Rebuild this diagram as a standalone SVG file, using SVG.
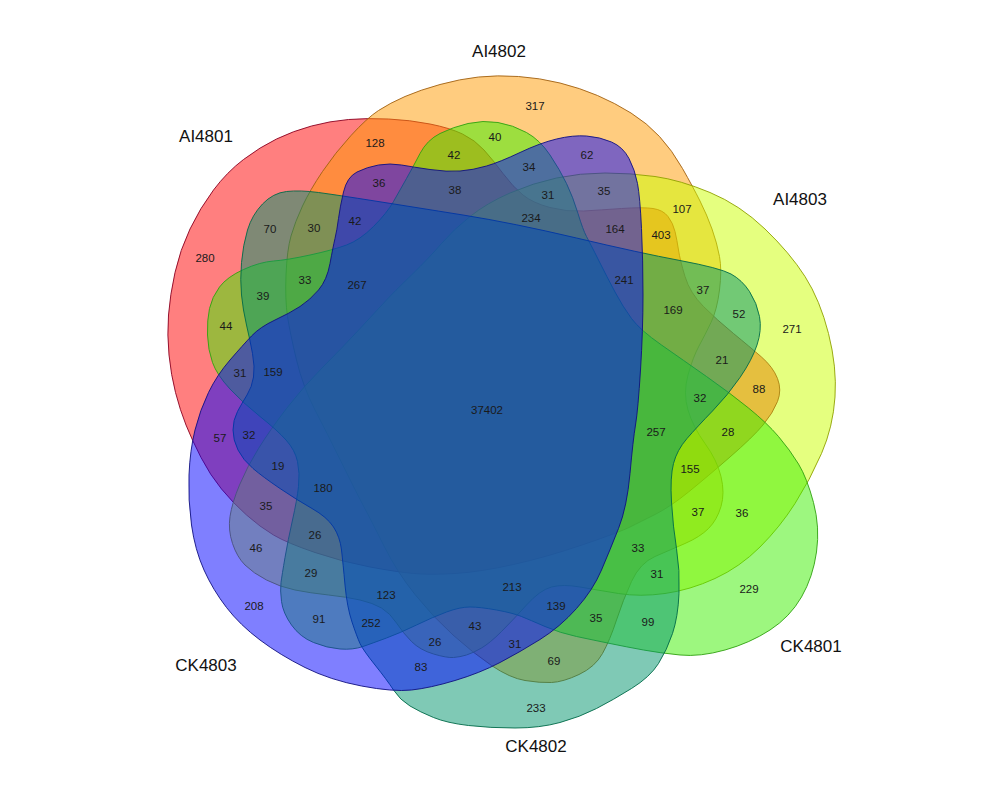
<svg xmlns="http://www.w3.org/2000/svg" width="1000" height="800" viewBox="0 0 1000 800">
<style>
.set{fill-opacity:0.5;stroke-width:0.9;stroke-linejoin:round}
.lab{font-family:"Liberation Sans",Arial,sans-serif;font-size:17px;fill:#111;text-anchor:middle}
.n{font-family:"Liberation Sans",Arial,sans-serif;font-size:11.5px;fill:#1a1a1a;text-anchor:middle}
</style>
<rect width="1000" height="800" fill="#ffffff"/>
<g id="AI4801">
<path class="set" fill="#ff0000" stroke="#8a0020" d="M201,457.5 Q192,440 186,425 Q180,410 175.5,392.5 Q171,375 169,355 Q167,335 168.5,315 Q170,295 175,272.5 Q180,250 190,229 Q200,208 213.5,190 Q227,172 243.5,159.5 Q260,147 276.5,139 Q293,131 311.5,126 Q330,121 348.5,119.5 Q367,118 388.5,119 Q410,120 430,124 Q450,128 462.5,134 Q475,140 484,150 Q493,160 503,173.5 Q513,187 523,195 Q533,203 550,207.5 Q567,212 583.5,211 Q600,210 621.5,208.5 Q643,207 653,208.5 Q663,210 668,216.5 Q673,223 675,231.5 Q677,240 678.5,250 Q680,260 685,276.5 Q690,293 703.5,306.5 Q717,320 733.5,333.5 Q750,347 761.5,357 Q773,367 777.5,378.5 Q782,390 777.5,401.5 Q773,413 763,425 Q753,437 730,457 Q707,477 688.5,492 Q670,507 655,514.5 Q640,522 630,527 Q620,532 583.5,544.5 Q547,557 513.5,564.5 Q480,572 455,573.5 Q430,575 413.5,573.5 Q397,572 370,567 Q343,562 315,552.5 Q287,543 273.5,535 Q260,527 246.5,515 Q233,503 221.5,489 Q210,475 201,457.5 Z"/>
<text class="lab" x="206" y="142">AI4801</text>
</g>
<g id="AI4802">
<path class="set" fill="#ff9900" stroke="#a06010" d="M551.5,682.5 Q540,683 525,680.5 Q510,678 491.5,665.5 Q473,653 453,635 Q433,617 415,594.5 Q397,572 384.5,547 Q372,522 363.5,506 Q355,490 341,461.5 Q327,433 315,410 Q303,387 296.5,360 Q290,333 287.5,316.5 Q285,300 286,275 Q287,250 291,236 Q295,222 302.5,206 Q310,190 322.5,171.5 Q335,153 351,135.5 Q367,118 378.5,110.5 Q390,103 405,96.5 Q420,90 440,84.5 Q460,79 478.5,77 Q497,75 518.5,76.5 Q540,78 560,83 Q580,88 597.5,95.5 Q615,103 631,113 Q647,123 659.5,136.5 Q672,150 682.5,168.5 Q693,187 700,201 Q707,215 712,229 Q717,243 719.5,256.5 Q722,270 719.5,290 Q717,310 711,322.5 Q705,335 699,346 Q693,357 688,375 Q683,393 688,410 Q693,427 705,443.5 Q717,460 721,476.5 Q725,493 721,506.5 Q717,520 708.5,528.5 Q700,537 685,543.5 Q670,550 655,556.5 Q640,563 631.5,581.5 Q623,600 616.5,620 Q610,640 602.5,653.5 Q595,667 579,674.5 Q563,682 551.5,682.5 Z"/>
<text class="lab" x="499" y="57">AI4802</text>
</g>
<g id="AI4803">
<path class="set" fill="#ccff00" stroke="#90a000" d="M230,516.5 Q232,503 239.5,485 Q247,467 258.5,448.5 Q270,430 286.5,408.5 Q303,387 323,367 Q343,347 361.5,327 Q380,307 386.5,300 Q393,293 411.5,275 Q430,257 441.5,243.5 Q453,230 470,216.5 Q487,203 510,193 Q533,183 556.5,178 Q580,173 605,173 Q630,173 655,176.5 Q680,180 710,192.5 Q740,205 765,229 Q790,253 805,276.5 Q820,300 828.5,333.5 Q837,367 835,397 Q833,427 821.5,453.5 Q810,480 795,503.5 Q780,527 760,547 Q740,567 715,578.5 Q690,590 665,593.5 Q640,597 618.5,593.5 Q597,590 580,587 Q563,584 551.5,587 Q540,590 526.5,605 Q513,620 501.5,631.5 Q490,643 481.5,648 Q473,653 466.5,655 Q460,657 453.5,657.5 Q447,658 433.5,654 Q420,650 411.5,641.5 Q403,633 396.5,623 Q390,613 381.5,608 Q373,603 360,600 Q347,597 328.5,595 Q310,593 295,590 Q280,587 266.5,580 Q253,573 245,565 Q237,557 232.5,543.5 Q228,530 230,516.5 Z"/>
<text class="lab" x="800" y="205">AI4803</text>
</g>
<g id="CK4801">
<path class="set" fill="#3cf000" stroke="#30a010" d="M406.5,178.5 Q413,167 420,153.5 Q427,140 440,133.5 Q453,127 468,123.5 Q483,120 498,122.5 Q513,125 526.5,132.5 Q540,140 550,155 Q560,170 566.5,183.5 Q573,197 578,213.5 Q583,230 586.5,236.5 Q590,243 598.5,260 Q607,277 615,292 Q623,307 631.5,318.5 Q640,330 661.5,345 Q683,360 706.5,376.5 Q730,393 748.5,408 Q767,423 778.5,436.5 Q790,450 798.5,464 Q807,478 813.5,502.5 Q820,527 816.5,552 Q813,577 801.5,597 Q790,617 770,630 Q750,643 725,650 Q700,657 680,655 Q660,653 643.5,650 Q627,647 610,643.5 Q593,640 576.5,636.5 Q560,633 545,626.5 Q530,620 521.5,616.5 Q513,613 496.5,610 Q480,607 470,607 Q460,607 446.5,612 Q433,617 416.5,625 Q400,633 386.5,638 Q373,643 363,646.5 Q353,650 340,649 Q327,648 313.5,642.5 Q300,637 291.5,625 Q283,613 281.5,601.5 Q280,590 281,582.5 Q282,575 285,557.5 Q288,540 292.5,520 Q297,500 298.5,486.5 Q300,473 297.5,461.5 Q295,450 286,440 Q277,430 260,416.5 Q243,403 230,389 Q217,375 212.5,362.5 Q208,350 207.5,335 Q207,320 209.5,308.5 Q212,297 219.5,287 Q227,277 243.5,269.5 Q260,262 273.5,261 Q287,260 310,255 Q333,250 346.5,245 Q360,240 373.5,226.5 Q387,213 393.5,201.5 Q400,190 406.5,178.5 Z"/>
<text class="lab" x="811" y="652">CK4801</text>
</g>
<g id="CK4802">
<path class="set" fill="#00946b" stroke="#006a48" d="M262.5,204 Q273,193 286.5,191.5 Q300,190 318.5,192.5 Q337,195 375,201 Q413,207 463,215 Q513,223 576.5,238 Q640,253 680,260.5 Q720,268 731,274 Q742,280 749.5,291.5 Q757,303 759.5,316.5 Q762,330 757,345 Q752,360 740,377.5 Q728,395 712.5,411 Q697,427 687,438.5 Q677,450 673.5,463.5 Q670,477 671.5,502 Q673,527 676.5,548.5 Q680,570 679,593.5 Q678,617 672.5,633.5 Q667,650 658.5,663.5 Q650,677 631.5,688.5 Q613,700 596.5,708.5 Q580,717 560,722.5 Q540,728 515,728 Q490,728 468.5,725.5 Q447,723 433.5,717.5 Q420,712 410,706 Q400,700 393.5,690 Q387,680 375,665 Q363,650 360,643.5 Q357,637 352,622 Q347,607 345,585 Q343,563 341.5,550 Q340,537 333.5,527 Q327,517 312,508.5 Q297,500 280,488.5 Q263,477 253,468.5 Q243,460 238,450 Q233,440 233,430 Q233,420 237.5,411.5 Q242,403 247,395 Q252,387 253.5,377 Q255,367 252.5,353.5 Q250,340 246.5,325 Q243,310 241.5,295 Q240,280 241.5,262.5 Q243,245 247.5,230 Q252,215 262.5,204 Z"/>
<text class="lab" x="536" y="752">CK4802</text>
</g>
<g id="CK4803">
<path class="set" fill="#0000ff" stroke="#101080" d="M208.5,392.5 Q217,375 230,360 Q243,345 251.5,336 Q260,327 275,320 Q290,313 300,306.5 Q310,300 318.5,290 Q327,280 330,263.5 Q333,247 335,238.5 Q337,230 338.5,218.5 Q340,207 343.5,192 Q347,177 357,172 Q367,167 378.5,165 Q390,163 401.5,165 Q413,167 430,169.5 Q447,172 460,171 Q473,170 486.5,166 Q500,162 520,152.5 Q540,143 556.5,139 Q573,135 586.5,136 Q600,137 611.5,142 Q623,147 629,158.5 Q635,170 637.5,183.5 Q640,197 641.5,228.5 Q643,260 643,295 Q643,330 640.5,370 Q638,410 635.5,425 Q633,440 630,473.5 Q627,507 618.5,528.5 Q610,550 601.5,570 Q593,590 576.5,608.5 Q560,627 540,639.5 Q520,652 500,662.5 Q480,673 455,680.5 Q430,688 411.5,690 Q393,692 361.5,686 Q330,680 305,667.5 Q280,655 260,640 Q240,625 226.5,607.5 Q213,590 204,570 Q195,550 191.5,525 Q188,500 189,475 Q190,450 195,430 Q200,410 208.5,392.5 Z"/>
<text class="lab" x="206" y="671">CK4803</text>
</g>
<g id="counts">
<text class="n" x="535" y="110">317</text>
<text class="n" x="375" y="147">128</text>
<text class="n" x="495" y="141">40</text>
<text class="n" x="454" y="159">42</text>
<text class="n" x="587" y="159">62</text>
<text class="n" x="379" y="187">36</text>
<text class="n" x="455" y="194">38</text>
<text class="n" x="529" y="171">34</text>
<text class="n" x="548" y="199">31</text>
<text class="n" x="604" y="195">35</text>
<text class="n" x="682" y="213">107</text>
<text class="n" x="270" y="233">70</text>
<text class="n" x="314" y="232">30</text>
<text class="n" x="355" y="225">42</text>
<text class="n" x="531" y="222">234</text>
<text class="n" x="615" y="233">164</text>
<text class="n" x="661" y="239">403</text>
<text class="n" x="205" y="262">280</text>
<text class="n" x="305" y="284">33</text>
<text class="n" x="357" y="289">267</text>
<text class="n" x="624" y="284">241</text>
<text class="n" x="263" y="300">39</text>
<text class="n" x="703" y="294">37</text>
<text class="n" x="739" y="318">52</text>
<text class="n" x="792" y="333">271</text>
<text class="n" x="226" y="330">44</text>
<text class="n" x="673" y="314">169</text>
<text class="n" x="240" y="377">31</text>
<text class="n" x="273" y="376">159</text>
<text class="n" x="722" y="364">21</text>
<text class="n" x="759" y="393">88</text>
<text class="n" x="700" y="402">32</text>
<text class="n" x="487" y="414">37402</text>
<text class="n" x="220" y="442">57</text>
<text class="n" x="249" y="439">32</text>
<text class="n" x="656" y="436">257</text>
<text class="n" x="728" y="436">28</text>
<text class="n" x="278" y="470">19</text>
<text class="n" x="690" y="473">155</text>
<text class="n" x="323" y="492">180</text>
<text class="n" x="698" y="516">37</text>
<text class="n" x="742" y="517">36</text>
<text class="n" x="266" y="510">35</text>
<text class="n" x="315" y="539">26</text>
<text class="n" x="256" y="552">46</text>
<text class="n" x="638" y="552">33</text>
<text class="n" x="311" y="577">29</text>
<text class="n" x="657" y="578">31</text>
<text class="n" x="512" y="591">213</text>
<text class="n" x="386" y="599">123</text>
<text class="n" x="749" y="593">229</text>
<text class="n" x="556" y="610">139</text>
<text class="n" x="254" y="610">208</text>
<text class="n" x="319" y="623">91</text>
<text class="n" x="596" y="622">35</text>
<text class="n" x="371" y="627">252</text>
<text class="n" x="648" y="626">99</text>
<text class="n" x="435" y="646">26</text>
<text class="n" x="475" y="630">43</text>
<text class="n" x="515" y="648">31</text>
<text class="n" x="554" y="665">69</text>
<text class="n" x="421" y="671">83</text>
<text class="n" x="536" y="712">233</text>
</g>
</svg>
